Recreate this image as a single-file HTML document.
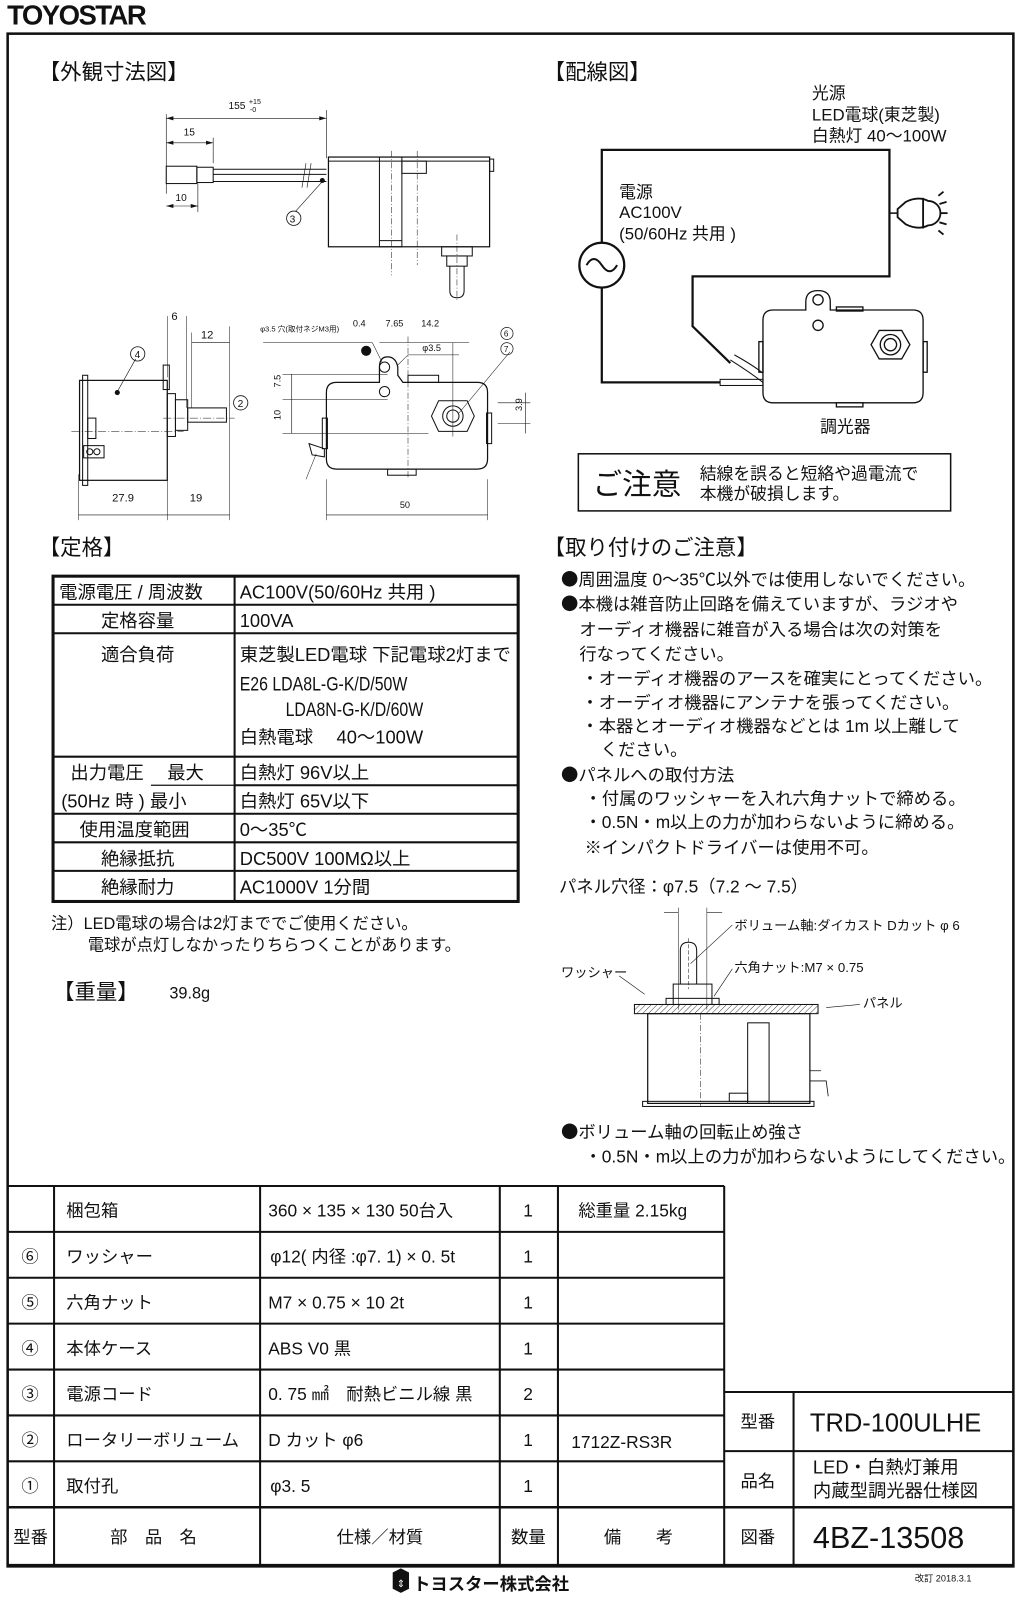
<!DOCTYPE html>
<html><head><meta charset="utf-8"><style>
html,body{margin:0;padding:0;background:#fff;}
svg{display:block;}
text{font-family:"Liberation Sans","Noto Sans CJK JP",sans-serif;fill:#111;}
.b{font-family:"Noto Sans CJK JP",sans-serif;}
</style></head><body>
<svg width="1020" height="1599" viewBox="0 0 1000 1568" preserveAspectRatio="none" xmlns="http://www.w3.org/2000/svg">
<rect width="1000" height="1568" fill="#fff"/>
<text x="7" y="24" font-size="27" font-weight="bold" letter-spacing="-1.5">TOYOSTAR</text>
<rect x="7.5" y="33" width="986" height="1503" fill="none" stroke="#111" stroke-width="2.5"/>

<text x="38" y="78" font-size="21">【外観寸法図】</text>
<text x="533" y="78" font-size="21">【配線図】</text>
<text x="38" y="544" font-size="21">【定格】</text>
<text x="533" y="544" font-size="21">【取り付けのご注意】</text>

<g stroke="#111" fill="none" stroke-width="1">
 <line x1="163" y1="112" x2="163" y2="190" stroke-width="0.6"/>
 <line x1="320" y1="108" x2="320" y2="155" stroke-width="0.6"/>
 <line x1="163" y1="116" x2="320" y2="116" stroke-width="0.6"/>
 <line x1="163" y1="140" x2="209" y2="140" stroke-width="0.6"/>
 <line x1="209" y1="135" x2="209" y2="160" stroke-width="0.6"/>
 <line x1="163" y1="202" x2="194" y2="202" stroke-width="0.6"/>
 <line x1="194" y1="180" x2="194" y2="208" stroke-width="0.6"/>
 <rect x="163" y="163" width="30" height="17"/>
 <rect x="193" y="164" width="16" height="15"/>
 <line x1="209" y1="166" x2="320" y2="166"/>
 <line x1="209" y1="171" x2="320" y2="171"/>
 <line x1="209" y1="178" x2="320" y2="178"/>
 <line x1="300" y1="160" x2="296" y2="184" stroke-width="0.6"/>
 <line x1="305" y1="160" x2="301" y2="184" stroke-width="0.6"/>
 <rect x="322" y="154" width="158" height="88" stroke-width="1.2"/>
 <line x1="322" y1="158" x2="480" y2="158"/>
 <rect x="372" y="154" width="22" height="88"/>
 <line x1="372" y1="236" x2="394" y2="236"/>
 <rect x="394" y="158" width="24" height="12"/>
 <rect x="480" y="156" width="4" height="12"/>
 <line x1="384" y1="148" x2="384" y2="270" stroke-dasharray="6,2,1,2" stroke-width="0.5"/>
 <line x1="409" y1="148" x2="409" y2="260" stroke-dasharray="6,2,1,2" stroke-width="0.5"/>
 <rect x="433" y="242" width="30" height="9"/>
 <rect x="438" y="251" width="20" height="10"/>
 <path d="M441 261 V285 Q441 292 448 292 Q455 292 455 285 V261"/>
 <line x1="448" y1="230" x2="448" y2="295" stroke-dasharray="6,2,1,2" stroke-width="0.5"/>
 <line x1="316" y1="178" x2="290" y2="207" stroke-width="0.6"/>
 <circle cx="288" cy="214" r="7" stroke-width="0.8"/>
</g>
<circle cx="316" cy="177" r="2.5" fill="#111"/>
<g font-size="10">
 <text x="224" y="107">155</text><text x="244" y="102" font-size="7">+15</text><text x="245" y="110" font-size="7">-0</text>
 <text x="180" y="133">15</text>
 <text x="172" y="197">10</text>
 <text x="284" y="218" font-size="10">3</text>
</g>
<g fill="#111"><path d="M163 116 l7 -2 v4z M320 116 l-7 -2 v4z M163 140 l7 -2 v4z M209 140 l-7 -2 v4z M163 202 l7 -2 v4z M194 202 l-7 -2 v4z"/></g>

<g stroke="#111" fill="none" stroke-width="1">
 <line x1="164" y1="310" x2="164" y2="370" stroke-width="0.5"/>
 <line x1="183" y1="310" x2="183" y2="400" stroke-width="0.5"/>
 <line x1="188" y1="326" x2="188" y2="400" stroke-width="0.5"/>
 <line x1="225" y1="320" x2="225" y2="510" stroke-width="0.5"/>
 <line x1="77" y1="465" x2="77" y2="510" stroke-width="0.5"/>
 <line x1="164" y1="465" x2="164" y2="510" stroke-width="0.5"/>
 <line x1="77" y1="505" x2="225" y2="505" stroke-width="0.6"/>
 <line x1="188" y1="336" x2="225" y2="336" stroke-width="0.6"/>
 <rect x="78" y="373" width="86" height="98" stroke-width="1.2"/>
 <rect x="81" y="368" width="5" height="108"/>
 <rect x="160" y="358" width="6" height="24"/>
 <rect x="164" y="386" width="8" height="42"/>
 <rect x="172" y="392" width="12" height="30"/>
 <rect x="184" y="400" width="38" height="14"/>
 <rect x="86" y="410" width="8" height="20"/>
 <rect x="82" y="437" width="20" height="12"/>
 <circle cx="88" cy="443" r="3"/><circle cx="95" cy="443" r="3"/>
 <line x1="70" y1="423" x2="180" y2="423" stroke-dasharray="8,2,1,2" stroke-width="0.5"/>
 <line x1="160" y1="410" x2="230" y2="410" stroke-dasharray="8,2,1,2" stroke-width="0.5"/>
 <line x1="115" y1="384" x2="133" y2="352" stroke-width="0.6"/>
 <circle cx="135" cy="347" r="7" stroke-width="0.8"/>
 <circle cx="236" cy="395" r="7" stroke-width="0.8"/>
</g>
<circle cx="115" cy="385" r="2.5" fill="#111"/>
<g font-size="11">
 <text x="168" y="314">6</text><text x="197" y="332">12</text>
 <text x="132" y="351" font-size="10">4</text><text x="233" y="399" font-size="10">2</text>
 <text x="110" y="492">27.9</text><text x="186" y="492">19</text>
</g>

<g stroke="#111" fill="none" stroke-width="1">
 <path d="M330 375 H372 V360 Q372 350 380 350 Q388 350 390 360 V368 L395 375 H468 Q478 375 478 385 V450 Q478 460 468 460 H330 Q320 460 320 450 V385 Q320 375 330 375Z" stroke-width="1.2"/>
 <circle cx="377" cy="360" r="5"/>
 <circle cx="377" cy="384" r="5"/>
 <rect x="400" y="368" width="30" height="7"/>
 <rect x="380" y="460" width="28" height="6"/>
 <rect x="316" y="410" width="5" height="30"/>
 <rect x="477" y="405" width="5" height="30"/>
 <polygon points="430,393 458,393 465,408 458,423 430,423 423,408"/>
 <circle cx="444" cy="408" r="10"/>
 <circle cx="444" cy="408" r="6"/>
 <line x1="400" y1="330" x2="400" y2="470" stroke-dasharray="6,2,1,2" stroke-width="0.5"/>
 <line x1="444" y1="336" x2="444" y2="428" stroke-width="0.5"/>
 <line x1="277" y1="367" x2="380" y2="367" stroke-width="0.5"/>
 <line x1="277" y1="392" x2="380" y2="392" stroke-width="0.5"/>
 <line x1="277" y1="425" x2="420" y2="425" stroke-width="0.5"/>
 <line x1="286" y1="367" x2="286" y2="425" stroke-width="0.6"/>
 <line x1="488" y1="395" x2="520" y2="395" stroke-width="0.5"/>
 <line x1="488" y1="415" x2="520" y2="415" stroke-width="0.5"/>
 <line x1="515" y1="385" x2="515" y2="425" stroke-width="0.6"/>
 <line x1="320" y1="470" x2="320" y2="510" stroke-width="0.5"/>
 <line x1="478" y1="470" x2="478" y2="510" stroke-width="0.5"/>
 <line x1="320" y1="505" x2="478" y2="505" stroke-width="0.6"/>
 <line x1="372" y1="336" x2="460" y2="336" stroke-width="0.5"/>
 <line x1="258" y1="336" x2="365" y2="336" stroke-width="0.5"/>
 <line x1="365" y1="336" x2="375" y2="356" stroke-width="0.5"/>
 <line x1="390" y1="358" x2="400" y2="348" stroke-width="0.5"/>
 <line x1="400" y1="348" x2="450" y2="348" stroke-width="0.5"/>
 <line x1="500" y1="345" x2="450" y2="405" stroke-width="0.5"/>
 <path d="M303 435 L318 440 V448 L306 446Z"/>
 <line x1="310" y1="445" x2="300" y2="470" stroke-width="0.5"/>
 <circle cx="497" cy="327" r="6" stroke-width="0.7"/>
 <circle cx="497" cy="342" r="6" stroke-width="0.7"/>
</g>
<circle cx="359" cy="344" r="5" fill="#111"/>
<g font-size="9">
 <text x="255" y="325" font-size="7.5">φ3.5 穴(取付ネジM3用)</text>
 <text x="346" y="320">0.4</text><text x="378" y="320">7.65</text><text x="413" y="320">14.2</text>
 <text x="414" y="344">φ3.5</text>
 <text x="494" y="330" font-size="8">6</text><text x="494" y="345" font-size="8">7</text>
 <text x="392" y="498">50</text>
 <text transform="translate(275,380) rotate(-90)">7.5</text>
 <text transform="translate(275,412) rotate(-90)">10</text>
 <text transform="translate(512,403) rotate(-90)">3.9</text>
</g>

<g stroke="#111" fill="none" stroke-width="2.2">
 <polyline points="590,238 590,147 872,147 872,271 679,271 679,320 716,356"/>
 <polyline points="590,282 590,375 706,375"/>
 <circle cx="590" cy="260" r="22"/>
 <line x1="872" y1="209" x2="880" y2="209" stroke-width="1.5"/>
</g>
<path d="M575 260 Q582 248 590 260 T605 260" stroke="#111" fill="none" stroke-width="2"/>
<g stroke="#111" fill="none" stroke-width="1.8">
 <path d="M880 205 L888 198 Q900 192 910 197 A12 12 0 0 1 910 221 Q900 226 888 220 L880 213Z"/>
 <line x1="905" y1="194" x2="905" y2="224"/>
 <line x1="920" y1="192" x2="925" y2="188"/><line x1="922" y1="209" x2="929" y2="209"/><line x1="920" y1="226" x2="925" y2="230"/>
 <line x1="921" y1="200" x2="928" y2="198"/><line x1="921" y1="218" x2="928" y2="220"/>
</g>
<g stroke="#111" fill="none" stroke-width="1.3">
 <path d="M758 304 H790 V296 Q790 285 802 285 Q814 285 814 296 V304 H895 Q905 304 905 314 V385 Q905 395 895 395 H758 Q748 395 748 385 V314 Q748 304 758 304Z"/>
 <circle cx="802" cy="294" r="5"/>
 <circle cx="802" cy="319" r="5"/>
 <rect x="820" y="301" width="26" height="4"/>
 <rect x="820" y="395" width="26" height="4"/>
 <rect x="744" y="335" width="4" height="30"/>
 <rect x="905" y="335" width="4" height="30"/>
 <polygon points="862,324 884,324 892,338 884,352 862,352 854,338"/>
 <circle cx="873" cy="338" r="10"/>
 <circle cx="873" cy="338" r="6"/>
 <path d="M716 353 Q735 365 748 375" stroke-width="1"/>
 <path d="M720 348 Q738 358 748 366" stroke-width="1"/>
 <rect x="706" y="372" width="42" height="6" stroke-width="1"/>
</g>
<g font-size="16.5">
 <text x="796" y="97">光源</text>
 <text x="796" y="118">LED電球(東芝製)</text>
 <text x="796" y="139">白熱灯 40～100W</text>
 <text x="607" y="194">電源</text>
 <text x="607" y="214">AC100V</text>
 <text x="607" y="235">(50/60Hz 共用 )</text>
 <text x="804" y="424">調光器</text>
</g>
<rect x="567" y="445" width="365" height="56" fill="none" stroke="#111" stroke-width="1.5"/>
<text x="581" y="485" font-size="29">ご注意</text>
<text x="686" y="470" font-size="16.5">結線を誤ると短絡や過電流で</text>
<text x="686" y="490" font-size="16.5">本機が破損します。</text>

<g stroke="#111" fill="none">
 <rect x="52" y="565" width="456" height="319" stroke-width="3"/>
 <g stroke-width="2">
 <line x1="52" y1="593" x2="508" y2="593"/>
 <line x1="52" y1="621" x2="508" y2="621"/>
 <line x1="52" y1="742" x2="508" y2="742"/>
 <line x1="230" y1="770" x2="508" y2="770"/>
 <line x1="148" y1="770" x2="230" y2="770" stroke-width="1.2"/>
 <line x1="52" y1="798" x2="508" y2="798"/>
 <line x1="52" y1="826" x2="508" y2="826"/>
 <line x1="52" y1="854" x2="508" y2="854"/>
 <line x1="230" y1="565" x2="230" y2="884"/>
 </g>
</g>
<g font-size="18">
 <text x="58" y="587">電源電圧 / 周波数</text>
 <text x="99" y="615">定格容量</text>
 <text x="99" y="648">適合負荷</text>
 <text x="69" y="764">出力電圧　 最大</text>
 <text x="60" y="792">(50Hz 時 ) 最小</text>
 <text x="78" y="820">使用温度範囲</text>
 <text x="99" y="848">絶縁抵抗</text>
 <text x="99" y="876">絶縁耐力</text>
 <text x="235" y="587">AC100V(50/60Hz 共用 )</text>
 <text x="235" y="615">100VA</text>
 <text x="235" y="648">東芝製LED電球 下記電球2灯まで</text>
 <text x="235" y="677" font-size="19" transform="translate(235,677) scale(0.82,1) translate(-235,-677)">E26 LDA8L-G-K/D/50W</text>
 <text x="280" y="702" font-size="19" transform="translate(280,702) scale(0.82,1) translate(-280,-702)">LDA8N-G-K/D/60W</text>
 <text x="235" y="729">白熱電球　 40～100W</text>
 <text x="235" y="764">白熱灯 96V以上</text>
 <text x="235" y="792">白熱灯 65V以下</text>
 <text x="235" y="820">0～35℃</text>
 <text x="235" y="848">DC500V 100MΩ以上</text>
 <text x="235" y="876">AC1000V 1分間</text>
</g>
<g font-size="16">
 <text x="50" y="911">注）LED電球の場合は2灯まででご使用ください。</text>
 <text x="86" y="932">電球が点灯しなかったりちらつくことがあります。</text>
</g>
<text x="52" y="980" font-size="21">【重量】</text>
<text x="166" y="979" font-size="16">39.8g</text>

<g font-size="17">
 <text x="550" y="574"><tspan class="b">●</tspan>周囲温度 0～35℃以外では使用しないでください。</text>
 <text x="550" y="598"><tspan class="b">●</tspan>本機は雑音防止回路を備えていますが、ラジオや</text>
 <text x="568" y="623">オーディオ機器に雑音が入る場合は次の対策を</text>
 <text x="568" y="647">行なってください。</text>
 <text x="570" y="671">・オーディオ機器のアースを確実にとってください。</text>
 <text x="570" y="695">・オーディオ機器にアンテナを張ってください。</text>
 <text x="570" y="718">・本器とオーディオ機器などとは 1m 以上離して</text>
 <text x="589" y="741">ください。</text>
 <text x="550" y="766"><tspan class="b">●</tspan>パネルへの取付方法</text>
 <text x="573" y="789">・付属のワッシャーを入れ六角ナットで締める。</text>
 <text x="573" y="812">・0.5N・m以上の力が加わらないように締める。</text>
 <text x="573" y="837">※インパクトドライバーは使用不可。</text>
 <text x="548" y="875">パネル穴径：φ7.5（7.2 ～ 7.5）</text>
 <text x="550" y="1116"><tspan class="b">●</tspan>ボリューム軸の回転止め強さ</text>
 <text x="573" y="1140">・0.5N・m以上の力が加わらないようにしてください。</text>
</g>
<defs><pattern id="h" width="4" height="4" patternUnits="userSpaceOnUse" patternTransform="rotate(45)"><line x1="0" y1="0" x2="0" y2="4" stroke="#111" stroke-width="0.8"/></pattern></defs>
<g stroke="#111" fill="none" stroke-width="1">
 <line x1="665" y1="890" x2="665" y2="990" stroke-width="0.5"/>
 <line x1="693" y1="890" x2="693" y2="990" stroke-width="0.5"/>
 <line x1="651" y1="895" x2="665" y2="895" stroke-width="0.6"/><line x1="693" y1="895" x2="708" y2="895" stroke-width="0.6"/>
 <rect x="622" y="985" width="180" height="9" fill="url(#h)"/>
 <rect x="635" y="994" width="159" height="88" stroke-width="1.2"/>
 <rect x="630" y="1080" width="168" height="5"/>
 <rect x="733" y="1003" width="21" height="79"/>
 <rect x="715" y="1072" width="18" height="8"/>
 <line x1="687" y1="994" x2="687" y2="1085" stroke-dasharray="6,2,1,2" stroke-width="0.5"/>
 <path d="M667 965 V932 Q667 924 675 924 Q683 924 683 932 V965"/>
 <rect x="660" y="965" width="38" height="20"/>
 <rect x="653" y="979" width="52" height="6"/>
 <line x1="675" y1="920" x2="675" y2="970" stroke-dasharray="4,2" stroke-width="0.5"/>
 <line x1="677" y1="945" x2="718" y2="907" stroke-width="0.6"/>
 <line x1="700" y1="977" x2="718" y2="950" stroke-width="0.6"/>
 <line x1="632" y1="975" x2="607" y2="957" stroke-width="0.6"/>
 <line x1="810" y1="988" x2="843" y2="985" stroke-width="0.6"/>
 <path d="M794 1050 H805 M794 1060 H810 L812 1075" stroke-width="0.8"/>
</g>
<g font-size="13">
 <text x="720" y="912">ボリューム軸:ダイカスト Dカット φ 6</text>
 <text x="720" y="953">六角ナット:M7 × 0.75</text>
 <text x="550" y="958">ワッシャー</text>
 <text x="846" y="988">パネル</text>
</g>

<g stroke="#111" fill="none" stroke-width="2">
 <line x1="8" y1="1163" x2="710" y2="1163"/>
 <line x1="8" y1="1208" x2="710" y2="1208"/>
 <line x1="8" y1="1253" x2="710" y2="1253"/>
 <line x1="8" y1="1298" x2="710" y2="1298"/>
 <line x1="8" y1="1343" x2="710" y2="1343"/>
 <line x1="8" y1="1388" x2="710" y2="1388"/>
 <line x1="8" y1="1433" x2="710" y2="1433"/>
 <line x1="8" y1="1478" x2="993" y2="1478" stroke-width="2.5"/>
 <line x1="8" y1="1535" x2="993" y2="1535" stroke-width="3"/>
 <line x1="53" y1="1163" x2="53" y2="1535"/>
 <line x1="255" y1="1163" x2="255" y2="1535"/>
 <line x1="490" y1="1163" x2="490" y2="1535"/>
 <line x1="547" y1="1163" x2="547" y2="1535"/>
 <line x1="710" y1="1163" x2="710" y2="1535"/>
 <line x1="710" y1="1365" x2="993" y2="1365"/>
 <line x1="710" y1="1423" x2="993" y2="1423"/>
 <line x1="778" y1="1365" x2="778" y2="1535"/>
</g>
<g font-size="17">
 <text x="65" y="1193">梱包箱</text>
 <text x="263" y="1193">360 × 135 × 130 50台入</text>
 <text x="513" y="1193">1</text>
 <text x="567" y="1193">総重量 2.15kg</text>
 <text x="21" y="1238">⑥</text><text x="65" y="1238">ワッシャー</text><text x="265" y="1238">φ12( 内径 :φ7. 1) × 0. 5t</text><text x="513" y="1238">1</text>
 <text x="21" y="1283">⑤</text><text x="65" y="1283">六角ナット</text><text x="263" y="1283">M7 × 0.75 × 10 2t</text><text x="513" y="1283">1</text>
 <text x="21" y="1328">④</text><text x="65" y="1328">本体ケース</text><text x="263" y="1328">ABS V0 黒</text><text x="513" y="1328">1</text>
 <text x="21" y="1373">③</text><text x="65" y="1373">電源コード</text><text x="263" y="1373">0. 75 ㎟　耐熱ビニル線 黒</text><text x="513" y="1373">2</text>
 <text x="21" y="1418">②</text><text x="65" y="1418">ロータリーボリューム</text><text x="263" y="1418">D カット φ6</text><text x="513" y="1418">1</text><text x="560" y="1420">1712Z-RS3R</text>
 <text x="21" y="1463">①</text><text x="65" y="1463">取付孔</text><text x="265" y="1463">φ3. 5</text><text x="513" y="1463">1</text>
 <text x="13" y="1513">型番</text>
 <text x="108" y="1513">部　品　名</text>
 <text x="330" y="1513">仕様／材質</text>
 <text x="501" y="1513">数量</text>
 <text x="592" y="1513">備　　考</text>
 <text x="726" y="1400">型番</text>
 <text x="726" y="1458">品名</text>
 <text x="726" y="1513">図番</text>
 <text x="797" y="1445" font-size="18">LED・白熱灯兼用</text>
 <text x="797" y="1468" font-size="18">内蔵型調光器仕様図</text>
</g>
<text x="794" y="1404" font-size="25">TRD-100ULHE</text>
<text x="797" y="1518" font-size="30">4BZ-13508</text>
<text x="897" y="1551" font-size="9">改訂 2018.3.1</text>
<g>
 <path d="M385 1542 L393 1538 L401 1542 V1558 L393 1562 L385 1558Z" fill="#111"/>
 <text x="389" y="1556" font-size="10" style="fill:#fff">⇕</text>
 <text x="405" y="1559" font-size="17" font-weight="bold">トヨスター株式会社</text>
</g>
</svg>
</body></html>
